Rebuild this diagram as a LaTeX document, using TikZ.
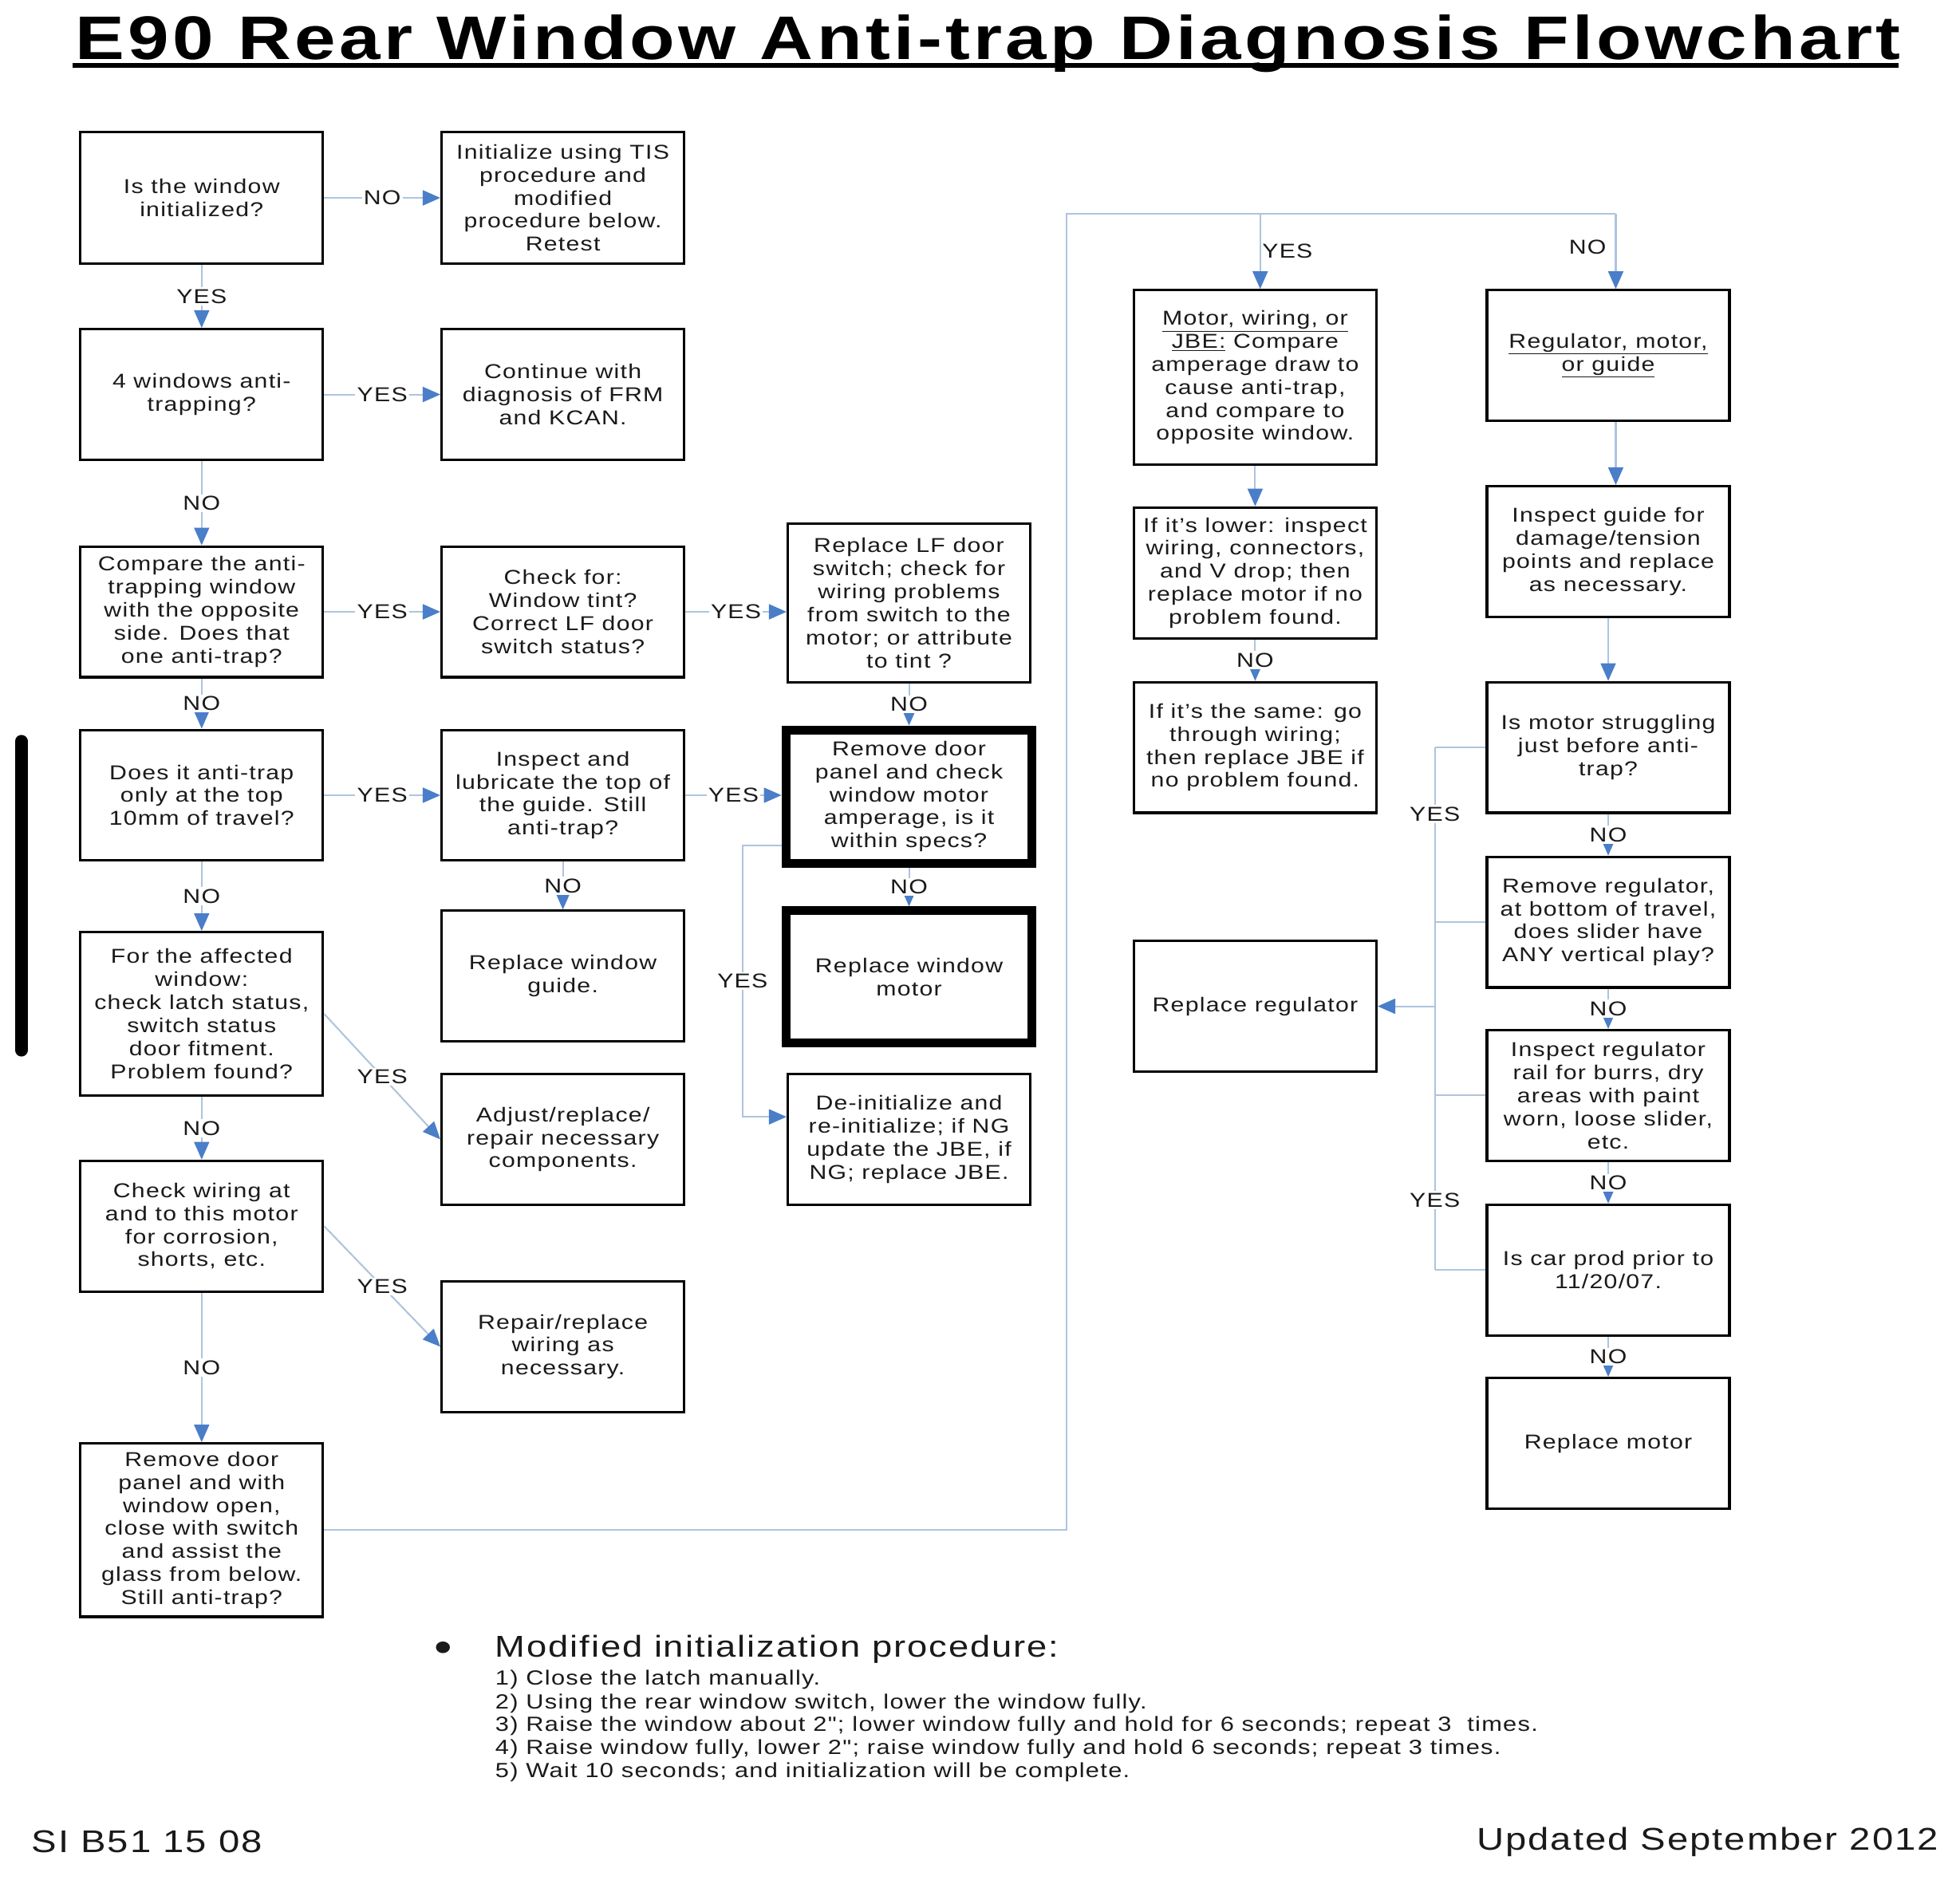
\documentclass[tikz,border=0pt]{standalone}
\usepackage{fontspec}
\setmainfont{Liberation Sans}[FakeStretch=1.2,LetterSpace=5,Ligatures=TeXOff]
\usetikzlibrary{arrows.meta,calc}
\definecolor{lineblue}{HTML}{AEC4DE}
\definecolor{tipblue}{HTML}{4A7EC8}
\definecolor{txt}{HTML}{1A1A1A}
\begin{document}
\begin{tikzpicture}[x=1pt,y=-1pt,
  box/.style={draw=black, line width=2pt, minimum width=193pt, minimum height=104pt,
    align=center, inner sep=1pt, font=\fontsize{16}{18.3}\selectfont, text=txt},
  thickbox/.style={box, line width=7pt, minimum width=196pt},
  conn/.style={draw=lineblue, line width=1.3pt, -{Triangle[width=12pt,length=14pt,color=tipblue]}},
  plain/.style={draw=lineblue, line width=1.3pt},
  lbl/.style={fill=white, inner sep=1.5pt, font=\fontsize{16}{18.3}\selectfont, text=txt},
  lblclear/.style={inner sep=1pt, font=\fontsize{16}{18.3}\selectfont, text=txt},
  small/.style={inner sep=0pt, anchor=west, font=\fontsize{16.3}{18.5}\selectfont, text=txt},
  big/.style={inner sep=0pt, font=\fontsize{25}{29}\selectfont, text=txt}]
\useasboundingbox (0,0) rectangle (1560,1496.5);
\fill[white] (0,0) rectangle (1560,1496.5);

% title
\node[inner sep=0pt, anchor=base west, font=\bfseries\fontsize{49}{55}\selectfont\addfontfeature{LetterSpace=5.6}] (title) at (60,47) {E90 Rear Window Anti-trap Diagnosis Flowchart};
\draw[line width=4pt] ($(title.base west)+(-2,5)$) -- ($(title.base east)+(-2,5)$);

% left bar
\draw[line width=10pt, line cap=round] (17,590) -- (17,836);

% column 1
\node[box, minimum height=105pt] (b1) at (160.5,157.5) {Is the window\\initialized?};
\node[box] (b2) at (160.5,314) {4 windows anti-\\trapping?};
\node[box] (b3) at (160.5,487) {Compare the anti-\\trapping window\\with the opposite\\side. Does that\\one anti-trap?};
\node[box] (b4) at (160.5,633) {Does it anti-trap\\only at the top\\10mm of travel?};
\node[box, minimum height=130pt] (b5) at (160.5,807) {For the affected\\window:\\check latch status,\\switch status\\door fitment.\\Problem found?};
\node[box] (b6) at (160.5,976) {Check wiring at\\and to this motor\\for corrosion,\\shorts, etc.};
\node[box, minimum height=138pt] (b7) at (160.5,1218) {Remove door\\panel and with\\window open,\\close with switch\\and assist the\\glass from below.\\Still anti-trap?};

% column 2
\node[box, minimum height=105pt] (c1) at (448,157.5) {Initialize using TIS\\procedure and\\modified\\procedure below.\\Retest};
\node[box] (c2) at (448,314) {Continue with\\diagnosis of FRM\\and KCAN.};
\node[box] (c3) at (448,487) {Check for:\\Window tint?\\Correct LF door\\switch status?};
\node[box] (c4) at (448,633) {Inspect and\\lubricate the top of\\the guide. Still\\anti-trap?};
\node[box] (c5) at (448,777) {Replace window\\guide.};
\node[box] (c6) at (448,907) {Adjust/replace/\\repair necessary\\components.};
\node[box] (c7) at (448,1072) {Repair/replace\\wiring as\\necessary.};

% column 3
\node[box, minimum height=126pt] (d1) at (723.5,480) {Replace LF door\\switch; check for\\wiring problems\\from switch to the\\motor; or attribute\\to tint ?};
\node[thickbox, minimum height=106pt] (d2) at (723.5,634) {Remove door\\panel and check\\window motor\\amperage, is it\\within specs?};
\node[thickbox, minimum height=105pt] (d3) at (723.5,777.5) {Replace window\\motor};
\node[box] (d4) at (723.5,907) {De-initialize and\\re-initialize; if NG\\update the JBE, if\\NG; replace JBE.};

% column 4
\node[box, minimum height=139pt] (e1) at (999,300.5) {\underline{Motor, wiring, or}\\\underline{JBE:} Compare\\amperage draw to\\cause anti-trap,\\and compare to\\opposite window.};
\node[box] (e2) at (999,456) {If it’s lower: inspect\\wiring, connectors,\\and V drop; then\\replace motor if no\\problem found.};
\node[box] (e3) at (999,595) {If it’s the same: go\\through wiring;\\then replace JBE if\\no problem found.};
\node[box] (e4) at (999,801) {Replace regulator};

% column 5
\node[box] (f1) at (1280,283) {\underline{Regulator, motor,}\\\underline{or guide}};
\node[box] (f2) at (1280,439) {Inspect guide for\\damage/tension\\points and replace\\as necessary.};
\node[box] (f3) at (1280,595) {Is motor struggling\\just before anti-\\trap?};
\node[box] (f4) at (1280,734) {Remove regulator,\\at bottom of travel,\\does slider have\\ANY vertical play?};
\node[box] (f5) at (1280,872) {Inspect regulator\\rail for burrs, dry\\areas with paint\\worn, loose slider,\\etc.};
\node[box] (f6) at (1280,1011) {Is car prod prior to\\11/20/07.};
\node[box] (f7) at (1280,1149) {Replace motor};

% connectors column 1/2
\draw[conn] (b1) -- node[lbl]{NO} (c1);
\draw[conn] (b1) -- node[lbl]{YES} (b2);
\draw[conn] (b2) -- node[lbl]{YES} (c2);
\draw[conn] (b2) -- node[lbl]{NO} (b3);
\draw[conn] (b3) -- node[lbl]{YES} (c3);
\draw[conn] (b3) -- node[lbl]{NO} (b4);
\draw[conn] (b4) -- node[lbl]{YES} (c4);
\draw[conn] (b4) -- node[lbl]{NO} (b5);
\draw[conn] (b5.east) -- node[lbl]{YES} (c6.west);
\draw[conn] (b5) -- node[lbl]{NO} (b6);
\draw[conn] (b6.east) -- node[lbl]{YES} (c7.west);
\draw[conn] (b6) -- node[lbl]{NO} (b7);
\draw[conn] (c3.east) -- node[lbl]{YES} (c3.east -| d1.west);
\draw[conn] (c4.east) -- node[lbl]{YES} (c4.east -| d2.west);
\draw[conn] (c4) -- node[lbl]{NO} (c5);
\draw[conn] (d1) -- node[lbl]{NO} (d2);
\draw[conn] (d2) -- node[lbl]{NO} (d3);
\draw[conn] ($(d2.west)+(0,39)$) -- ++(-31,0) |- node[lbl,pos=0.25]{YES} ($(d4.west)+(0,-18)$);

% long connector to right half
\coordinate (tl) at (849,170);
\coordinate (ty) at (1003,170);
\coordinate (tr) at (1286,170);
\draw[plain] (b7.east) -| (tl) -- (tr);
\draw[conn] (ty) -- node[lblclear, anchor=west, pos=0.5]{YES} (ty |- e1.north);
\draw[conn] (tr) -- node[lblclear, anchor=east, pos=0.45, xshift=-6pt]{NO} (tr |- f1.north);

% column 4 connectors
\draw[conn] (e1) -- (e2);
\draw[conn] (e2) -- node[lbl]{NO} (e3);

% column 5 connectors
\draw[conn] (f1.south -| tr) -- (f2.north -| tr);
\draw[conn] (f2) -- (f3);
\draw[conn] (f3) -- node[lbl]{NO} (f4);
\draw[conn] (f4) -- node[lbl]{NO} (f5);
\draw[conn] (f5) -- node[lbl]{NO} (f6);
\draw[conn] (f6) -- node[lbl]{NO} (f7);

% YES bus
\coordinate (bx) at (1142,0);
\draw[plain] (f3.west) -- (f3.west -| bx);
\draw[plain] (f4.west) -- (f4.west -| bx);
\draw[plain] (f5.west) -- (f5.west -| bx);
\draw[plain] (f6.west) -- (f6.west -| bx);
\draw[plain] (f3.west -| bx) -- (f4.west -| bx) -- (f5.west -| bx) -- (f6.west -| bx);
\path (f3.west -| bx) -- node[lbl, pos=0.38]{YES} (f4.west -| bx);
\path (f5.west -| bx) -- node[lbl, pos=0.6]{YES} (f6.west -| bx);
\draw[conn] (e4.east -| bx) -- (e4.east);

% bottom text
\node[big, font=\fontsize{34}{34}\selectfont] (bul) at (353,1315) {•};
\node[big, anchor=west, font=\fontsize{24}{28}\selectfont] (mod) at (394,1313) {Modified initialization procedure:};
\node[small] (s1) at (394,1337) {1) Close the latch manually.};
\node[small] (s2) at (394,1356) {2) Using the rear window switch, lower the window fully.};
\node[small] (s3) at (394,1374) {3) Raise the window about 2"; lower window fully and hold for 6 seconds; repeat 3\ \ times.};
\node[small] (s4) at (394,1392) {4) Raise window fully, lower 2"; raise window fully and hold 6 seconds; repeat 3 times.};
\node[small] (s5) at (394,1411) {5) Wait 10 seconds; and initialization will be complete.};
\node[big, anchor=west] (si) at (25,1466) {SI B51 15 08};
\node[big, anchor=east] (upd) at (1543,1466) {Updated September 2012};
\end{tikzpicture}
\end{document}
